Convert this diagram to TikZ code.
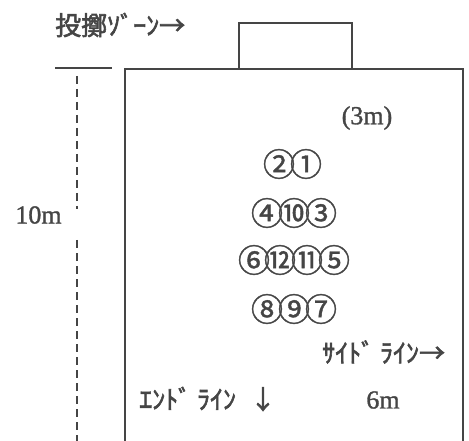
\documentclass[tikz,border=0pt]{standalone}
\usepackage{fontspec}
\setmainfont{Liberation Serif}[FakeBold=1.2]
\newfontfamily\jpfont{Noto Sans CJK JP}[FakeBold=2.2]
\newfontfamily\numfont{Noto Sans CJK JP}[FakeBold=1.2]
\definecolor{ink}{HTML}{454545}
\begin{document}
\begin{tikzpicture}[x=1pt,y=-1pt,
  line/.style={draw=ink,line width=1.8pt},
  dashline/.style={draw=ink,line width=1.8pt,dash pattern=on 8pt off 5pt},
  jp/.style={text=ink,inner sep=0pt,font=\jpfont\fontsize{26}{26}\selectfont},
  lat/.style={text=ink,inner sep=0pt,font=\fontsize{26}{26}\selectfont},
  num/.style={text=ink,inner sep=0pt,font=\numfont\fontsize{32}{32}\selectfont}]
\useasboundingbox (0,0) rectangle (469,441);
% court
\coordinate (bl) at (125,442);
\coordinate (tl) at (125,69);
\coordinate (tr) at (463,69);
\coordinate (br) at (463,442);
\draw[line] (bl) -- (tl) -- (tr) -- (br) -- cycle;
% throwing zone box
\coordinate (z1) at (239,69);
\coordinate (z2) at (239,23);
\coordinate (z3) at (352,23);
\coordinate (z4) at (352,69);
\draw[line] (z1) -- (z2) -- (z3) -- (z4);
% dimension marks
\coordinate (t1) at (55,68);
\coordinate (t2) at (112,68);
\draw[line] (t1) -- (t2);
\coordinate (b1) at (62,442);
\coordinate (b2) at (100,442);
\draw[line] (b1) -- (b2);
\coordinate (d1) at (77,76);
\coordinate (d2) at (77,209);
\coordinate (d3) at (77,240);
\coordinate (d4) at (77,441);
\draw[dashline] (d1) -- (d2);
\draw[dashline] (d3) -- (d4);
% labels
\node[jp,anchor=west] (zone) at (55,25) {投擲ｿﾞｰﾝ→};
\node[lat] (ten) at (38.5,215) {10m};
\node[lat] (three) at (367,118) {(3m)};
\node[jp,anchor=west] (side) at (322,352) {ｻｲﾄﾞ ﾗｲﾝ→};
\node[jp,anchor=west] (end) at (139,399) {ｴﾝﾄﾞ ﾗｲﾝ\hspace{14pt}↓};
\node[lat] (six) at (383,400) {6m};
% players
\node[num] (p2) at (279,164) {②};
\node[num] (p1) at (306,164) {①};
\node[num] (p4) at (267,213) {④};
\node[num] (p10) at (294,213) {⑩};
\node[num] (p3) at (321,213) {③};
\node[num] (p6) at (254,260) {⑥};
\node[num] (p12) at (280,260) {⑫};
\node[num] (p11) at (307,260) {⑪};
\node[num] (p5) at (334,260) {⑤};
\node[num] (p8) at (267,309) {⑧};
\node[num] (p9) at (294,309) {⑨};
\node[num] (p7) at (321,309) {⑦};
\end{tikzpicture}
\end{document}
